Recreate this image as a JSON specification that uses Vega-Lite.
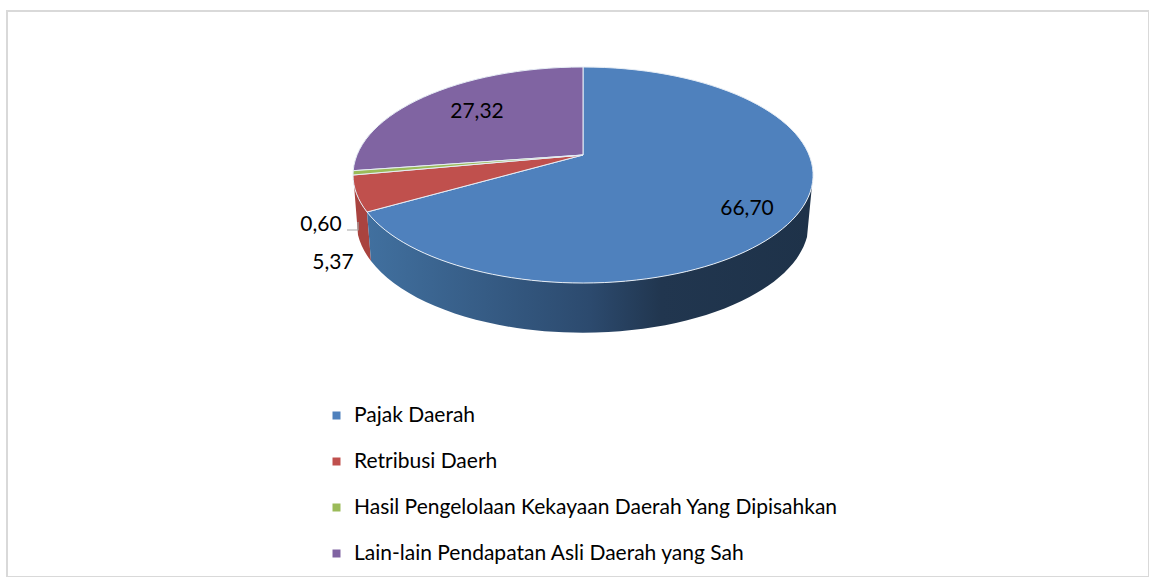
{
"$schema":"https://vega.github.io/schema/vega-lite/v6.json",
"width":1142,"height":566,
"autosize":{"type":"none"},
"padding":{"left":7,"top":11,"right":0,"bottom":0},
"background":"white",
"view":{"stroke":"#d9d9d9","strokeWidth":2,"fill":null},
"config":{"font":"Lato","text":{"font":"Lato"}},
"data":{"values":[
{"kategori":"Pajak Daerah","nilai":66.70,"label":"66,70"},
{"kategori":"Retribusi Daerh","nilai":5.37,"label":"5,37"},
{"kategori":"Hasil Pengelolaan Kekayaan Daerah Yang Dipisahkan","nilai":0.60,"label":"0,60"},
{"kategori":"Lain-lain Pendapatan Asli Daerah yang Sah","nilai":27.32,"label":"27,32"}
]},
"layer":[
{"transform":[{"filter":"datum.kategori==='Retribusi Daerh'"}],
 "mark":{"type":"point","filled":true,"opacity":1,"xOffset":5,"yOffset":-139,"fill":"#a9433f","stroke":null,"size":4,"shape":"M-229,30 A230,108 0 0 0 -216,57 L-212,106 A226,110 0 0 1 -225,80 Z"},
 "encoding":{}},
{"transform":[{"filter":"datum.kategori==='Pajak Daerah'"}],
 "mark":{"type":"point","filled":true,"opacity":1,"xOffset":5,"yOffset":-139,"size":4,"stroke":null,
  "fill":{"gradient":"linear","x1":0,"x2":1,"y1":0,"y2":0,"stops":[{"offset":0,"color":"#41709f"},{"offset":0.5,"color":"#2c4a6e"},{"offset":0.66,"color":"#21364f"},{"offset":1,"color":"#1e3249"}]},
  "shape":"M-216,57 A230,108 0 0 0 230,20 L224,82 A226,110 0 0 1 -212,106 Z"},
 "encoding":{}},
{"transform":[{"filter":"datum.kategori==='Pajak Daerah'"}],
 "mark":{"type":"point","filled":true,"opacity":1,"xOffset":5,"yOffset":-139,"size":4,"stroke":"#e6edf5","strokeWidth":1,"shape":"M0,0 L0,-88 A230,108 0 1 1 -216,57 Z"},
 "encoding":{"color":{"field":"kategori","type":"nominal",
   "scale":{"domain":["Pajak Daerah","Retribusi Daerh","Hasil Pengelolaan Kekayaan Daerah Yang Dipisahkan","Lain-lain Pendapatan Asli Daerah yang Sah"],"range":["#4f81bd","#c0504d","#9bbb59","#8064a2"]},
   "legend":{"title":null,"orient":"none","legendX":319,"legendY":394,"symbolType":"square","symbolSize":64,"symbolStrokeWidth":0,"labelFont":"Lato","labelFontSize":21,"labelColor":"#000000","labelLimit":800,"labelOffset":7,"rowPadding":24}}}},
{"transform":[{"filter":"datum.kategori==='Retribusi Daerh'"}],
 "mark":{"type":"point","filled":true,"opacity":1,"xOffset":5,"yOffset":-139,"size":4,"stroke":"#e6edf5","strokeWidth":1,"shape":"M0,0 L-216,57 A230,108 0 0 1 -230,20 Z"},
 "encoding":{"color":{"field":"kategori","type":"nominal"}}},
{"transform":[{"filter":"datum.kategori==='Lain-lain Pendapatan Asli Daerah yang Sah'"}],
 "mark":{"type":"point","filled":true,"opacity":1,"xOffset":5,"yOffset":-139,"size":4,"stroke":"#e6edf5","strokeWidth":1,"shape":"M0,0 L-229.8,15.7 A230,108 0 0 1 0,-88 Z"},
 "encoding":{"color":{"field":"kategori","type":"nominal"}}},
{"transform":[{"filter":"datum.kategori==='Hasil Pengelolaan Kekayaan Daerah Yang Dipisahkan'"}],
 "mark":{"type":"point","filled":true,"opacity":1,"xOffset":5,"yOffset":-139,"size":4,"stroke":"#e6edf5","strokeWidth":1,"shape":"M0,0 L-230,20 A230,108 0 0 1 -229.8,15.7 Z"},
 "encoding":{"color":{"field":"kategori","type":"nominal"}}},
{"transform":[{"filter":"datum.label==='0,60'"}],
 "mark":{"type":"point","filled":false,"opacity":1,"xOffset":5,"yOffset":-139,"size":4,"stroke":"#a6a6a6","strokeWidth":1.2,"shape":"M-236,75 L-225,75 L-225,67"},
 "encoding":{}},
{"transform":[{"filter":"datum.label==='66,70'"}],"mark":{"type":"text","fontSize":21,"color":"#000000","dx":169,"dy":-85},"encoding":{"text":{"field":"label"}}},
{"transform":[{"filter":"datum.label==='27,32'"}],"mark":{"type":"text","fontSize":21,"color":"#000000","dx":-101,"dy":-182},"encoding":{"text":{"field":"label"}}},
{"transform":[{"filter":"datum.label==='0,60'"}],"mark":{"type":"text","fontSize":21,"color":"#000000","dx":-257,"dy":-69},"encoding":{"text":{"field":"label"}}},
{"transform":[{"filter":"datum.label==='5,37'"}],"mark":{"type":"text","fontSize":21,"color":"#000000","dx":-245,"dy":-31},"encoding":{"text":{"field":"label"}}}
]
}
